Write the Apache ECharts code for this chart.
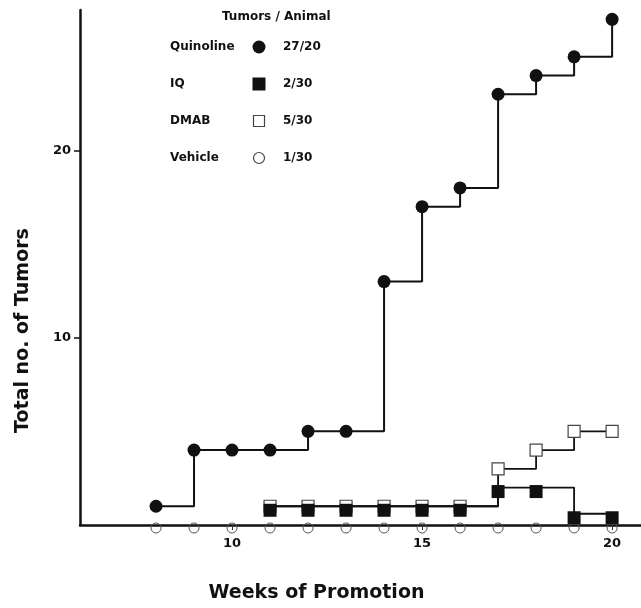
<!DOCTYPE html>
<html><head><meta charset="utf-8">
<script src="https://cdn.jsdelivr.net/npm/echarts@6/dist/echarts.min.js"></script>
<style>html,body{margin:0;padding:0;background:#fff}#c{width:641px;height:608px}</style>
</head><body><div id="c"></div>
<script>
// ---- data ----
const quinolineWeeks = [8, 9, 10, 11, 12, 13, 14, 15, 16, 17, 18, 19, 20];
const quinoline      = [1, 4, 4, 4, 5, 5, 13, 17, 18, 23, 24, 25, 27];
const iqWeeks   = [11, 12, 13, 14, 15, 16, 17, 18, 19, 20];
const iq        = [1, 1, 1, 1, 1, 1, 2, 2, 0.6, 0.6];
const dmabWeeks = [11, 12, 13, 14, 15, 16, 17, 18, 19, 20];
const dmab      = [1, 1, 1, 1, 1, 1, 3, 4, 5, 5];
const vehicleWeeks = [8, 9, 10, 11, 12, 13, 14, 15, 16, 17, 18, 19, 20];
const vehicle      = [0, 0, 0, 0, 0, 0, 0, 0, 0, 0, 0, 0, 0];
const xTickValues = [10, 15, 20];
const yTickValues = [10, 20];
const legendTitle = 'Tumors / Animal';
const legendNames = ['Quinoline', 'IQ', 'DMAB', 'Vehicle'];
const legendRatios = ['27/20', '2/30', '5/30', '1/30'];

const pairs = (xs, ys) => xs.map((x, i) => [x, ys[i]]);
const FONT = 'DejaVu Sans';
const INK = '#111';

const chart = echarts.init(document.getElementById('c'), null, {renderer: 'canvas'});

// legend drawn as graphic elements (names left, marker, ratio right)
const legendY = [47, 84, 121, 158];
const graphics = [
  {type: 'text', left: 222, top: 11, style: {text: legendTitle, font: 'bold 12px "DejaVu Sans"', fill: INK}}
];
const markerShapes = [
  {type: 'circle', shape: {r: 6.5}, style: {fill: INK}},
  {type: 'rect', shape: {x: -6.5, y: -6.5, width: 13, height: 13}, style: {fill: INK}},
  {type: 'rect', shape: {x: -5.5, y: -5.5, width: 11, height: 11}, style: {fill: '#fff', stroke: '#444', lineWidth: 1.2}},
  {type: 'circle', shape: {r: 5.5}, style: {fill: '#fff', stroke: '#444', lineWidth: 1.2}}
];
legendNames.forEach((n, i) => {
  graphics.push({type: 'text', x: 170, y: legendY[i], style: {text: n, font: 'bold 12px "DejaVu Sans"', fill: INK, verticalAlign: 'middle'}});
  graphics.push(Object.assign({x: 259, y: legendY[i]}, markerShapes[i]));
  graphics.push({type: 'text', x: 283, y: legendY[i], style: {text: legendRatios[i], font: 'bold 12px "DejaVu Sans"', fill: INK, verticalAlign: 'middle'}});
});

chart.setOption({
  backgroundColor: '#fff',
  animation: false,
  grid: {left: 80, right: 0, top: 10, bottom: 81},
  xAxis: {
    type: 'value', min: 6, max: 20.76,
    name: 'Weeks of Promotion', nameLocation: 'middle', nameGap: 59,
    nameTextStyle: {fontFamily: FONT, fontWeight: 'bold', fontSize: 19, color: INK, padding: [0, 88, 0, 0]},
    axisLine: {show: true, onZero: false, lineStyle: {color: INK, width: 2.5}},
    axisTick: {show: true, customValues: xTickValues, length: 5, lineStyle: {color: '#333', width: 1}},
    axisLabel: {customValues: xTickValues, margin: 12, fontFamily: FONT, fontWeight: 'bold', fontSize: 13, color: INK},
    splitLine: {show: false}
  },
  yAxis: {
    type: 'value', min: 0, max: 27.5,
    name: 'Total no. of Tumors', nameLocation: 'middle', nameGap: 47, nameRotate: 90,
    nameTextStyle: {fontFamily: FONT, fontWeight: 'bold', fontSize: 19, color: INK, padding: [0, 126, 0, 0]},
    axisLine: {show: true, onZero: false, lineStyle: {color: INK, width: 2.5}},
    axisTick: {show: true, customValues: yTickValues, length: 6, lineStyle: {color: INK, width: 1.5}},
    axisLabel: {customValues: yTickValues, margin: 9, fontFamily: FONT, fontWeight: 'bold', fontSize: 13, color: INK},
    splitLine: {show: false}
  },
  graphic: graphics,
  series: [
    {
      name: 'Vehicle', type: 'line', data: pairs(vehicleWeeks, vehicle),
      symbol: 'circle', symbolSize: 10, symbolOffset: [0, 3],
      itemStyle: {color: 'transparent', borderColor: '#555', borderWidth: 1},
      lineStyle: {width: 0}, z: 3
    },
    {
      name: 'DMAB', type: 'line', step: 'end', data: pairs(dmabWeeks, dmab),
      symbol: 'rect', symbolSize: 12,
      itemStyle: {color: '#fff', borderColor: '#444', borderWidth: 1.2},
      lineStyle: {color: INK, width: 1.8}, z: 3
    },
    {
      name: 'IQ', type: 'line', step: 'end', data: pairs(iqWeeks, iq),
      symbol: 'rect', symbolSize: 13, symbolOffset: [0, 4],
      itemStyle: {color: INK},
      lineStyle: {color: INK, width: 1.8}, z: 4
    },
    {
      name: 'Quinoline', type: 'line', step: 'end', data: pairs(quinolineWeeks, quinoline),
      symbol: 'circle', symbolSize: 13,
      itemStyle: {color: INK},
      lineStyle: {color: INK, width: 2}, z: 5
    }
  ]
});
</script></body></html>
